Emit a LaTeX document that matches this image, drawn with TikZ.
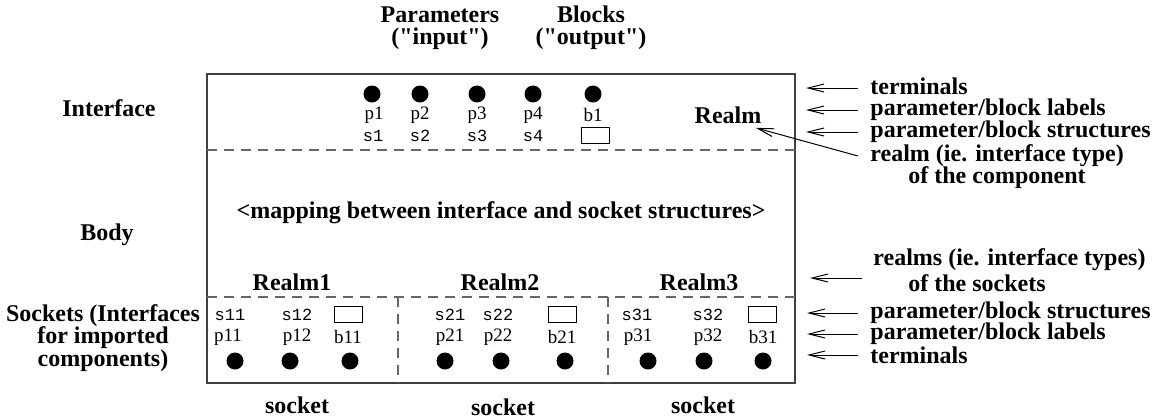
\documentclass[tikz,border=0pt]{standalone}
\usepackage{fontspec}
\setmainfont{Liberation Serif}
\setmonofont{Liberation Mono}
\usetikzlibrary{arrows.meta}

\tikzset{
  lbl/.style={font=\bfseries\fontsize{12}{11}\selectfont, inner sep=0pt},
  note/.style={lbl, anchor=west},
  term/.style={circle, fill, minimum size=8.5pt, inner sep=0pt},
  plbl/.style={font=\fontsize{9.5}{11}\selectfont, inner sep=0pt},
  slbl/.style={font=\ttfamily\fontsize{8.5}{10}\selectfont, inner sep=0pt},
  sbox/.style={draw, line width=0.5pt, minimum width=14pt, minimum height=8pt, inner sep=0pt},
  sep/.style={dashed, dash pattern=on 5pt off 3.5pt, black!60, line width=0.6pt},
  arr/.style={-{Straight Barb[length=8pt,width=4pt]}, line width=0.5pt}
}
\newcommand{\sq}{\XeTeXglyph\XeTeXcharglyph"22\relax}

\begin{document}
\begin{tikzpicture}[x=0.5pt, y=-0.5pt]
\useasboundingbox (0,0) rectangle (1159,419);
\draw [black!75, line width=0.75pt] (207,74) rectangle (795,383);
\draw [sep] (207,150) -- (795,150);
\draw [sep] (207,297) -- (795,297);
\draw [sep] (398,297) -- (398,383);
\draw [sep] (608,297) -- (608,383);

\node [lbl, align=center] (par) at (440,28) {Parameters\\(\sq input\sq)};
\node [lbl, align=center] (blk) at (591,28) {Blocks\\(\sq output\sq)};
\node [lbl] (intf) at (109,108) {Interface};
\node [lbl] (body) at (107,235) {Body};
\node [lbl, align=center, font=\bfseries\fontsize{12}{11.25}\selectfont] (sock) at (103,338) {Sockets (Interfaces\\for imported\\components)};
\node [lbl] (map) at (501,213) {<mapping between interface and socket structures>};

\node [term] (tp1) at (372,94) {};
\node [term] (tp2) at (420,94) {};
\node [term] (tp3) at (477,94) {};
\node [term] (tp4) at (533,94) {};
\node [term] (tb1) at (593,94) {};
\node [plbl] (lp1) at (374,115) {p1};
\node [plbl] (lp2) at (420,115) {p2};
\node [plbl] (lp3) at (477,115) {p3};
\node [plbl] (lp4) at (533,115) {p4};
\node [plbl] (lb1) at (593,115) {b1};
\node [slbl] (s1) at (373,136) {s1};
\node [slbl] (s2) at (420,136) {s2};
\node [slbl] (s3) at (477,136) {s3};
\node [slbl] (s4) at (533,136) {s4};
\node [sbox] (sb1) at (595,135) {};
\node [lbl] (realm) at (728,115) {Realm};

\node [lbl] (realm1) at (292,282) {Realm1};
\node [lbl] (realm2) at (500,282) {Realm2};
\node [lbl] (realm3) at (699,282) {Realm3};

\node [slbl] (s11) at (230,315) {s11};
\node [slbl] (s12) at (297,315) {s12};
\node [sbox] (sb11) at (348,314) {};
\node [plbl] (lp11) at (228,337) {p11};
\node [plbl] (lp12) at (297,337) {p12};
\node [plbl] (lb11) at (348,337) {b11};
\node [term] (tp11) at (235,361) {};
\node [term] (tp12) at (290,361) {};
\node [term] (tb11) at (350,361) {};

\node [slbl] (s21) at (450,315) {s21};
\node [slbl] (s22) at (498,315) {s22};
\node [sbox] (sb21) at (562,314) {};
\node [plbl] (lp21) at (450,337) {p21};
\node [plbl] (lp22) at (498,337) {p22};
\node [plbl] (lb21) at (562,337) {b21};
\node [term] (tp21) at (445,361) {};
\node [term] (tp22) at (501,361) {};
\node [term] (tb21) at (565,361) {};

\node [slbl] (s31) at (637,315) {s31};
\node [slbl] (s32) at (708,315) {s32};
\node [sbox] (sb31) at (762,314) {};
\node [plbl] (lp31) at (638,337) {p31};
\node [plbl] (lp32) at (708,337) {p32};
\node [plbl] (lb31) at (763,337) {b31};
\node [term] (tp31) at (648,361) {};
\node [term] (tp32) at (704,361) {};
\node [term] (tb31) at (763,361) {};

\node [lbl] (sk1) at (297,405) {socket};
\node [lbl] (sk2) at (503,407) {socket};
\node [lbl] (sk3) at (703,405) {socket};

\node [note] (nt1) at (870,86) {terminals};
\node [note] (nt2) at (870,110) {parameter/block labels};
\node [note] (nt3) at (870,132) {parameter/block structures};
\node [note] (nt4) at (870,156) {realm (ie. interface type)};
\node [note] (nt5) at (908,178) {of the component};
\node [note] (nb1) at (873,260) {realms (ie. interface types)};
\node [note] (nb2) at (908,283) {of the sockets};
\node [note] (nb3) at (870,313) {parameter/block structures};
\node [note] (nb4) at (870,334) {parameter/block labels};
\node [note] (nb5) at (870,355) {terminals};

\coordinate (at1) at (806,88);
\coordinate (at2) at (806,110);
\coordinate (at3) at (806,132);
\coordinate (ab1) at (810,278);
\coordinate (ab3) at (807,313);
\coordinate (ab4) at (807,334);
\coordinate (ab5) at (807,355);
\draw [arr] ([xshift=-6pt]nt1.west |- at1) -- (at1);
\draw [arr] ([xshift=-6pt]nt2.west) -- (at2);
\draw [arr] ([xshift=-6pt]nt3.west) -- (at3);
\draw [arr] ([xshift=-6pt]nt4.west) -- ([shift={(-3pt,-2pt)}]realm.south east);
\draw [arr] (862,278) -- (ab1);
\draw [arr] ([xshift=-6pt]nb3.west) -- (ab3);
\draw [arr] ([xshift=-6pt]nb4.west) -- (ab4);
\draw [arr] ([xshift=-6pt]nb5.west) -- (ab5);
\end{tikzpicture}
\end{document}
